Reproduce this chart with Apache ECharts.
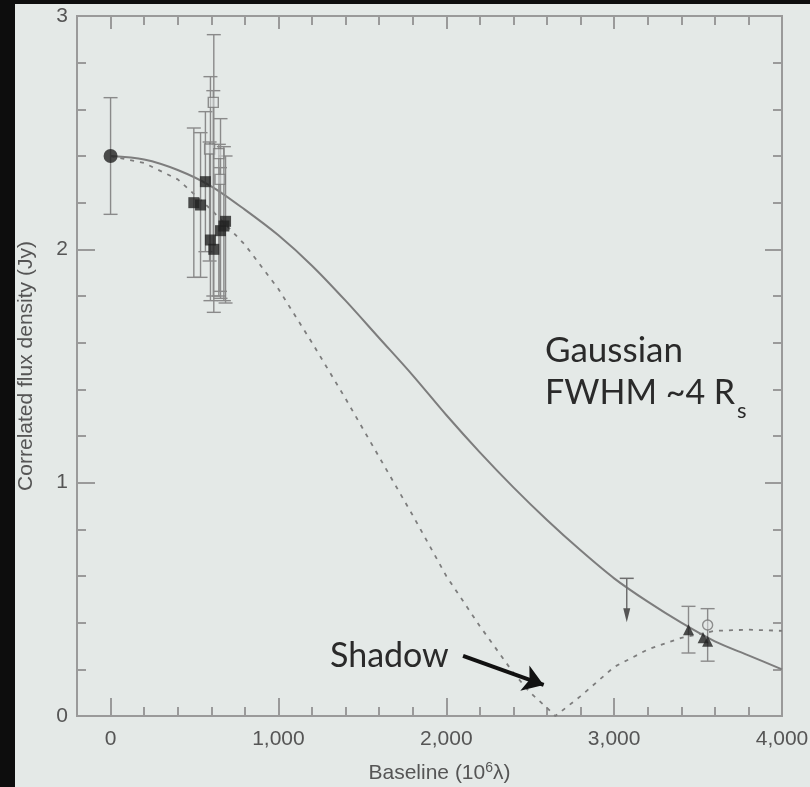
<!DOCTYPE html>
<html>
<head>
<meta charset="utf-8">
<script src="https://cdn.jsdelivr.net/npm/echarts@6/dist/echarts.min.js"></script>
<style>
  html, body { margin: 0; padding: 0; background: #e4e9e7; }
  #chart { position: absolute; left: 0; top: 0; width: 810px; height: 787px; }
  .edge { position: absolute; background: #0d0d0d; }
</style>
</head>
<body>
<div id="chart"></div>
<div class="edge" style="left:0;top:0;width:15px;height:787px"></div>
<div class="edge" style="left:0;top:0;width:810px;height:4px"></div>
<script>
// Axis ticks and labels
const xMajorTicks = [0, 1000, 2000, 3000, 4000];
const yMajorTicks = [0, 1, 2, 3];

// Model curves (baseline in 10^6 lambda, correlated flux density in Jy)
const gaussianBaseline = [0, 200, 400, 600, 800, 1000, 1200, 1400, 1600, 1800, 2000,
  2200, 2400, 2600, 2800, 3000, 3200, 3400, 3600, 3800, 4000];
const gaussianFlux = [2.40, 2.385, 2.34, 2.27, 2.17, 2.06, 1.93, 1.78, 1.62, 1.46, 1.29,
  1.13, 0.98, 0.84, 0.71, 0.59, 0.49, 0.40, 0.32, 0.26, 0.20];

const shadowBaseline = [0, 200, 400, 600, 800, 1000, 1200, 1400, 1600, 1800, 2000,
  2200, 2400, 2500, 2600, 2650, 2800, 3000, 3200, 3400, 3600, 3800, 4000];
const shadowFlux = [2.40, 2.37, 2.30, 2.17, 2.02, 1.83, 1.60, 1.36, 1.11, 0.86, 0.60,
  0.385, 0.185, 0.10, 0.035, 0.0, 0.085, 0.21, 0.285, 0.335, 0.365, 0.37, 0.365];

// Zero-baseline flux (filled circle)
const zeroBaseline = [0];
const zeroFlux = [2.40];
const zeroLow = [2.15];
const zeroHigh = [2.65];

// Short-baseline detections (filled squares)
const filledSqBaseline = [496, 536, 565, 595, 615, 655, 675, 685];
const filledSqFlux = [2.20, 2.19, 2.29, 2.04, 2.00, 2.08, 2.10, 2.12];
const filledSqLow = [1.88, 1.88, 1.99, 1.78, 1.73, 1.79, 1.78, 1.77];
const filledSqHigh = [2.52, 2.50, 2.59, 2.74, 2.92, 2.56, 2.44, 2.40];

// Short-baseline detections (open squares)
const openSqBaseline = [612, 590, 645, 652];
const openSqFlux = [2.63, 2.43, 2.41, 2.30];
const openSqLow = [1.80, 1.95, 1.80, 1.82];
const openSqHigh = [2.68, 2.46, 2.45, 2.35];

// Long-baseline detections (filled triangles)
const triBaseline = [3443, 3530, 3557];
const triFlux = [0.37, 0.335, 0.32];
const triLow = [0.27, null, 0.235];
const triHigh = [0.47, null, 0.46];

// Long-baseline detection (open circle)
const openCircBaseline = [3557];
const openCircFlux = [0.39];

// Upper limit
const limitBaseline = [3075];
const limitFlux = [0.59];

const GRAY = '#8a8a8a';
const AXIS = '#9a9a9a';
const INK = '#222222';
const FONT = '"Liberation Sans", Arial, sans-serif';
const TEXT_FONT = 'Lato, "Open Sans", sans-serif';

const chart = echarts.init(document.getElementById('chart'), null, { renderer: 'canvas' });

function zip(xs, ys) { return xs.map((x, i) => [x, ys[i]]); }

function errorBars(xs, lo, hi) {
  return {
    type: 'custom',
    silent: true,
    z: 2,
    data: xs.map((x, i) => [x, lo[i], hi[i]]).filter(d => d[1] != null),
    renderItem(params, api) {
      const p1 = api.coord([api.value(0), api.value(2)]);
      const p0 = api.coord([api.value(0), api.value(1)]);
      const w = 7;
      const st = { stroke: GRAY, lineWidth: 1.4 };
      return {
        type: 'group',
        children: [
          { type: 'line', shape: { x1: p1[0], y1: p1[1], x2: p0[0], y2: p0[1] }, style: st },
          { type: 'line', shape: { x1: p1[0] - w, y1: p1[1], x2: p1[0] + w, y2: p1[1] }, style: st },
          { type: 'line', shape: { x1: p0[0] - w, y1: p0[1], x2: p0[0] + w, y2: p0[1] }, style: st }
        ]
      };
    }
  };
}

function upperLimits(xs, ys) {
  return {
    type: 'custom',
    silent: true,
    z: 3,
    data: zip(xs, ys),
    renderItem(params, api) {
      const p = api.coord([api.value(0), api.value(1)]);
      const len = 44, w = 7;
      const st = { stroke: '#6e6e6e', lineWidth: 1.5 };
      return {
        type: 'group',
        children: [
          { type: 'line', shape: { x1: p[0] - w, y1: p[1], x2: p[0] + w, y2: p[1] }, style: st },
          { type: 'line', shape: { x1: p[0], y1: p[1], x2: p[0], y2: p[1] + len - 6 }, style: st },
          { type: 'polygon', shape: { points: [[p[0] - 3.5, p[1] + len - 14], [p[0] + 3.5, p[1] + len - 14], [p[0], p[1] + len]] },
            style: { fill: '#555' } }
        ]
      };
    }
  };
}

function xAxisPart(position, tickLen, opts) {
  return Object.assign({
    type: 'value', position, min: -200, max: 4000, interval: 200,
    axisLine: { show: false, onZero: false },
    axisTick: { show: true, inside: true, length: tickLen, lineStyle: { color: AXIS, width: 2 } },
    axisLabel: { show: false },
    splitLine: { show: false }
  }, opts || {});
}
function yAxisPart(position, tickLen, opts) {
  return Object.assign({
    type: 'value', position, min: 0, max: 3, interval: 0.2,
    axisLine: { show: false, onZero: false },
    axisTick: { show: true, inside: true, length: tickLen, lineStyle: { color: AXIS, width: 2 } },
    axisLabel: { show: false },
    splitLine: { show: false }
  }, opts || {});
}
function majorTick(len, values) {
  return { axisTick: { show: true, inside: true, length: len, customValues: values, lineStyle: { color: AXIS, width: 2 } } };
}

const option = {
  backgroundColor: '#e4e9e7',
  animation: false,
  grid: {
    left: 77, top: 16, right: 28, bottom: 71,
    outerBoundsMode: 'none', containLabel: false,
    show: true, borderColor: AXIS, borderWidth: 2, backgroundColor: 'transparent'
  },
  xAxis: [
    xAxisPart('bottom', 9, {
      name: '{t|Baseline (10}{s|6}{t|λ)}',
      nameLocation: 'middle',
      nameGap: 45,
      nameTextStyle: {
        padding: [0, 0, 0, 20],
        rich: {
          t: { fontFamily: FONT, fontSize: 21, color: '#555' },
          s: { fontFamily: FONT, fontSize: 14, color: '#555', padding: [0, 0, 10, 0] }
        }
      },
      axisLabel: {
        show: true, customValues: xMajorTicks, margin: 13,
        fontFamily: FONT, fontSize: 21, color: '#555',
        formatter: v => v.toLocaleString('en-US')
      }
    }),
    xAxisPart('bottom', 18, majorTick(18, xMajorTicks)),
    xAxisPart('top', 9),
    xAxisPart('top', 13, majorTick(13, xMajorTicks))
  ],
  yAxis: [
    yAxisPart('left', 9, {
      name: 'Correlated flux density (Jy)',
      nameLocation: 'middle',
      nameGap: 40,
      nameTextStyle: { fontFamily: FONT, fontSize: 21, color: '#555' },
      axisLabel: {
        show: true, customValues: yMajorTicks, margin: 9,
        fontFamily: FONT, fontSize: 21, color: '#555'
      }
    }),
    yAxisPart('left', 18, majorTick(18, yMajorTicks)),
    yAxisPart('right', 9),
    yAxisPart('right', 17, majorTick(17, yMajorTicks))
  ],
  series: [
    {
      name: 'Gaussian model', type: 'line', smooth: 0.3, symbol: 'none', silent: true, z: 1,
      data: zip(gaussianBaseline, gaussianFlux),
      lineStyle: { color: '#7d7d7d', width: 2 }
    },
    {
      name: 'Shadow model', type: 'line', smooth: false, symbol: 'none', silent: true, z: 1,
      data: zip(shadowBaseline, shadowFlux),
      lineStyle: { color: '#7d7d7d', width: 1.8, type: [4, 6] },
      markLine: {
        silent: true, symbol: ['none', 'arrow'], symbolSize: 20,
        label: { show: false },
        lineStyle: { color: '#111', width: 4, type: 'solid' },
        data: [[{ coord: [2100, 0.258] }, { coord: [2580, 0.133] }]]
      }
    },
    errorBars(zeroBaseline, zeroLow, zeroHigh),
    errorBars(filledSqBaseline, filledSqLow, filledSqHigh),
    errorBars(openSqBaseline, openSqLow, openSqHigh),
    errorBars(triBaseline, triLow, triHigh),
    upperLimits(limitBaseline, limitFlux),
    {
      name: 'Zero baseline', type: 'scatter', symbol: 'circle', symbolSize: 14, silent: true, z: 4,
      data: zip(zeroBaseline, zeroFlux), itemStyle: { color: INK }
    },
    {
      name: 'Open squares', type: 'scatter', symbol: 'rect', symbolSize: 10, silent: true, z: 4,
      data: zip(openSqBaseline, openSqFlux),
      itemStyle: { color: 'rgba(228,233,231,0.6)', borderColor: '#777', borderWidth: 1.4 }
    },
    {
      name: 'Filled squares', type: 'scatter', symbol: 'rect', symbolSize: 11, silent: true, z: 5,
      data: zip(filledSqBaseline, filledSqFlux), itemStyle: { color: INK }
    },
    {
      name: 'Open circle', type: 'scatter', symbol: 'circle', symbolSize: 10, silent: true, z: 4,
      data: zip(openCircBaseline, openCircFlux),
      itemStyle: { color: 'rgba(228,233,231,0.6)', borderColor: '#777', borderWidth: 1.4 }
    },
    {
      name: 'Triangles', type: 'scatter', symbol: 'triangle', symbolSize: 11, silent: true, z: 5,
      data: zip(triBaseline, triFlux), itemStyle: { color: INK }
    }
  ],
  graphic: [
    { type: 'text', left: 545, top: 333, silent: true,
      style: { text: 'Gaussian', fontFamily: TEXT_FONT, fontSize: 35, fill: '#2a2a2a' } },
    { type: 'text', left: 545, top: 376, silent: true,
      style: { text: 'FWHM ~4 R', fontFamily: TEXT_FONT, fontSize: 34, fill: '#2a2a2a' } },
    { type: 'text', left: 737, top: 400, silent: true,
      style: { text: 's', fontFamily: TEXT_FONT, fontSize: 22, fill: '#2a2a2a' } },
    { type: 'text', left: 330, top: 639, silent: true,
      style: { text: 'Shadow', fontFamily: TEXT_FONT, fontSize: 34, fill: '#2a2a2a' } }
  ]
};

chart.setOption(option);
</script>
</body>
</html>
